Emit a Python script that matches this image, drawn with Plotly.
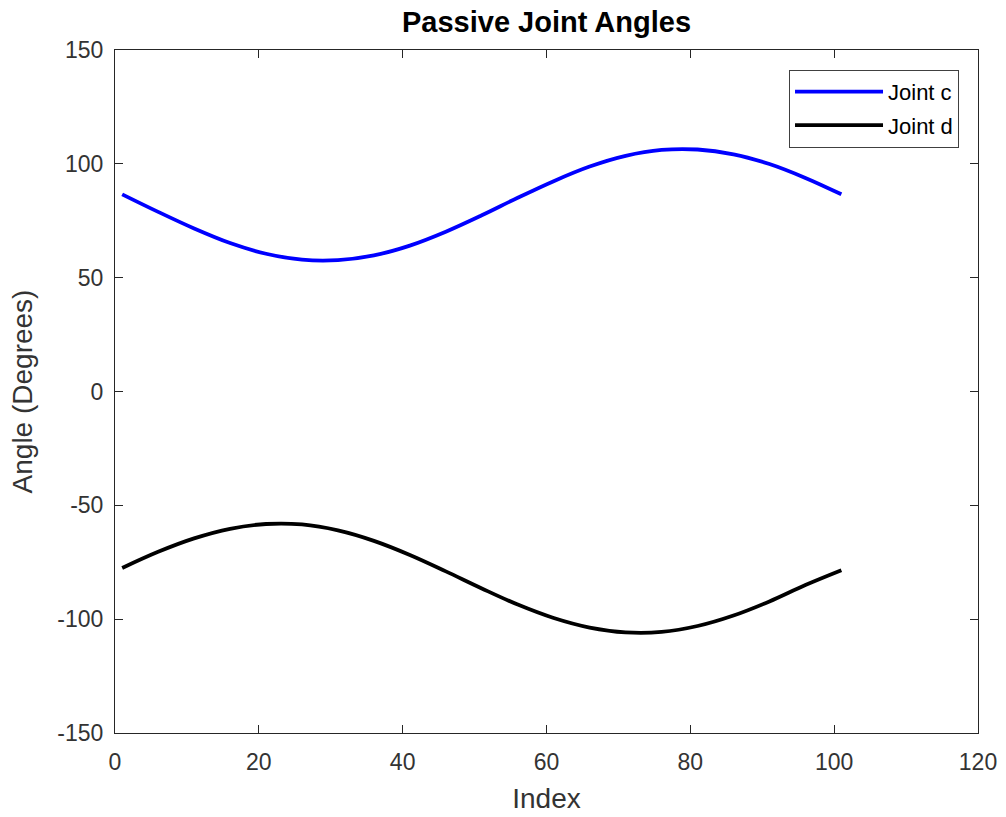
import plotly.graph_objects as go

# Sample index along the motion cycle
index = [1, 6, 11, 16, 21, 26, 31, 36, 41, 46, 51, 56, 61, 66, 71, 76, 81, 86, 91, 96, 101]

# Passive joint angles in degrees
joint_c = [86.6, 78.9, 71.6, 65.2, 60.5, 57.9, 57.7, 59.8, 64.1, 70.2, 77.4,
           85.1, 92.4, 98.8, 103.5, 106.1, 106.3, 104.2, 99.9, 93.8, 86.6]
joint_d = [-77.5, -70.4, -64.5, -60.3, -58.2, -58.4, -61.0, -65.6, -71.8, -79.0, -86.5,
           -93.6, -99.5, -103.7, -105.8, -105.6, -103.0, -98.4, -92.2, -85.0, -78.5]

x_ticks = [0, 20, 40, 60, 80, 100, 120]
y_ticks = [-150, -100, -50, 0, 50, 100, 150]
y_tick_text = ["-150", "-100", "-50", "0", "50", "100", "150"]

axis_color = "#262626"
text_color = "#333333"
font_family = "Liberation Sans, Arial, sans-serif"

fig = go.Figure()
fig.add_trace(go.Scatter(x=index, y=joint_c, mode="lines", name="Joint c", legendgroup="c",
                         line=dict(color="#0000ff", width=3.8, shape="spline")))
fig.add_trace(go.Scatter(x=index, y=joint_d, mode="lines", name="Joint d", legendgroup="d",
                         line=dict(color="#000000", width=3.8, shape="spline")))

axis_common = dict(
    showgrid=False, zeroline=False, automargin=False,
    showline=True, linecolor=axis_color, linewidth=1, mirror="ticks",
    ticks="inside", ticklen=8, tickcolor=axis_color, tickwidth=1,
    tickfont=dict(family=font_family, size=23, color=text_color),
)

fig.update_layout(
    width=1006, height=817,
    margin=dict(l=115, r=28, t=50, b=84),
    paper_bgcolor="white", plot_bgcolor="white",
    font=dict(family=font_family, color=axis_color),
    title=dict(text="<b>Passive Joint Angles</b>", x=(115 + 978) / 2 / 1006, xanchor="center",
               y=1 - 22 / 817, yanchor="middle", automargin=False,
               font=dict(family=font_family, size=29, color="#000000")),
    xaxis=dict(range=[0, 120], tickvals=x_ticks, ticklabelstandoff=8,
               title=dict(text="Index", font=dict(family=font_family, size=28, color=text_color),
                          standoff=14),
               **axis_common),
    yaxis=dict(range=[-150, 150], tickvals=y_ticks, ticktext=y_tick_text, ticklabelstandoff=6,
               title=dict(text="Angle (Degrees)", font=dict(family=font_family, size=28, color=text_color),
                          standoff=16),
               **axis_common),
    legend=dict(x=0.978, y=0.971, xanchor="right", yanchor="top",
                bordercolor="#404040", borderwidth=1, bgcolor="white",
                font=dict(family=font_family, size=22, color="#000000"),
                itemwidth=88, tracegroupgap=2),
    showlegend=True,
)

fig.write_html("out.html")
